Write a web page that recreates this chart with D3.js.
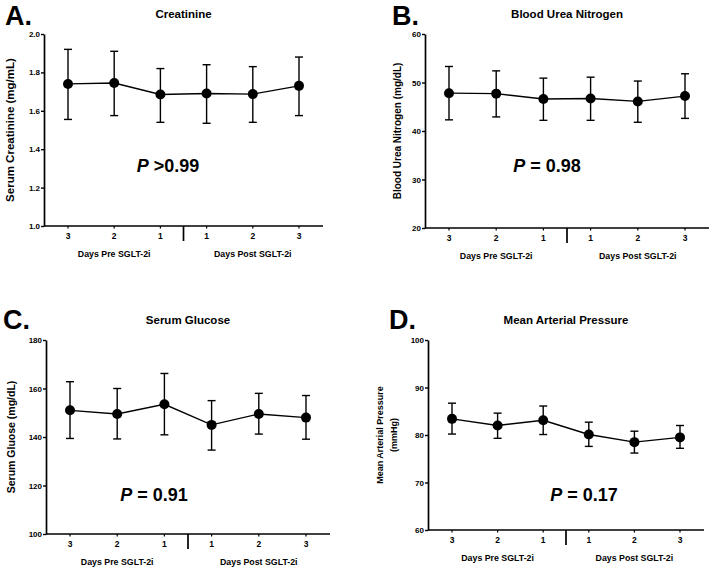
<!DOCTYPE html>
<html>
<head>
<meta charset="utf-8">
<script src="https://cdn.jsdelivr.net/npm/d3@7"></script>
<style>
  body { margin: 0; background: #fff; }
  text { font-family: "Liberation Sans", Arial, sans-serif; font-weight: bold; fill: #000; }
</style>
</head>
<body>
<svg width="709" height="568"></svg>
<script>
const days = ["3", "2", "1", "1", "2", "3"];

const creatMean  = [1.74, 1.745, 1.685, 1.69, 1.687, 1.73];
const creatUpper = [1.92, 1.91, 1.82, 1.84, 1.83, 1.88];
const creatLower = [1.555, 1.575, 1.54, 1.535, 1.54, 1.575];

const bunMean  = [47.8, 47.7, 46.6, 46.7, 46.1, 47.2];
const bunUpper = [53.3, 52.4, 50.9, 51.1, 50.3, 51.8];
const bunLower = [42.3, 42.9, 42.2, 42.2, 41.8, 42.6];

const glucMean  = [151, 149.5, 153.5, 145, 149.5, 148];
const glucUpper = [162.8, 160, 166.2, 155, 158, 157.1];
const glucLower = [139.4, 139.2, 140.9, 134.6, 141.2, 139.1];

const mapMean  = [83.4, 82, 83.1, 80.1, 78.5, 79.5];
const mapUpper = [86.7, 84.6, 86.1, 82.7, 80.8, 82];
const mapLower = [80.2, 79.3, 80.1, 77.6, 76.2, 77.2];

const panels = [
  { letter: "A.", title: "Creatinine", ylabel: ["Serum Creatinine (mg/mL)"], yfont: 11.5,
    domain: [1.0, 2.0], ticks: [1.0, 1.2, 1.4, 1.6, 1.8, 2.0], fmt: d3.format(".1f"),
    mean: creatMean, upper: creatUpper, lower: creatLower, p: ">0.99",
    left: 44, right: 323, top: 34, bottom: 226, lx: 5, ly: 25, yl: 14, px: 168, py: 172 },
  { letter: "B.", title: "Blood Urea Nitrogen", ylabel: ["Blood Urea Nitrogen (mg/dL)"], yfont: 10,
    domain: [20, 60], ticks: [20, 30, 40, 50, 60], fmt: d3.format("d"),
    mean: bunMean, upper: bunUpper, lower: bunLower, p: "= 0.98",
    left: 425, right: 709, top: 34, bottom: 228, lx: 392, ly: 25, yl: 401, px: 547, py: 172 },
  { letter: "C.", title: "Serum Glucose", ylabel: ["Serum Gluose (mg/dL)"], yfont: 10.5,
    domain: [100, 180], ticks: [100, 120, 140, 160, 180], fmt: d3.format("d"),
    mean: glucMean, upper: glucUpper, lower: glucLower, p: "= 0.91",
    left: 46, right: 330, top: 340, bottom: 534, lx: 3, ly: 329, yl: 15, px: 154, py: 501 },
  { letter: "D.", title: "Mean Arterial Pressure", ylabel: ["Mean Arterial Pressure", "(mmHg)"], yfont: 9,
    domain: [60, 100], ticks: [60, 70, 80, 90, 100], fmt: d3.format("d"),
    mean: mapMean, upper: mapUpper, lower: mapLower, p: "= 0.17",
    left: 428, right: 704, top: 340, bottom: 530, lx: 389, ly: 329, yl: 383, px: 584, py: 501 }
];

const svg = d3.select("svg");

panels.forEach(cfg => {
  const g = svg.append("g");
  const x = d3.scaleLinear().domain([0, 5]).range([cfg.left + 24, cfg.right - 24]);
  const y = d3.scaleLinear().domain(cfg.domain).range([cfg.bottom, cfg.top]);

  // y axis
  const yAxis = g.append("g")
    .attr("transform", `translate(${cfg.left},0)`)
    .call(d3.axisLeft(y).tickValues(cfg.ticks).tickFormat(cfg.fmt).tickSize(3).tickSizeOuter(0));
  yAxis.select(".domain").attr("stroke-width", 1.7);
  yAxis.selectAll(".tick line").attr("stroke-width", 1.4);
  yAxis.selectAll(".tick text").attr("font-size", 8).attr("x", -4)
    .style("font-family", "Liberation Sans, Arial, sans-serif").style("font-weight", "bold");

  // x axis line
  g.append("line")
    .attr("x1", cfg.left).attr("x2", cfg.right)
    .attr("y1", cfg.bottom).attr("y2", cfg.bottom)
    .attr("stroke", "#000").attr("stroke-width", 1.7);

  // x ticks and labels
  days.forEach((d, i) => {
    g.append("line")
      .attr("x1", x(i)).attr("x2", x(i))
      .attr("y1", cfg.bottom).attr("y2", cfg.bottom + 2.5)
      .attr("stroke", "#000").attr("stroke-width", 1.2);
    g.append("text")
      .attr("x", x(i)).attr("y", cfg.bottom + 13)
      .attr("text-anchor", "middle").attr("font-size", 8.5)
      .text(d);
  });

  // divider between pre and post
  g.append("line")
    .attr("x1", x(2.5)).attr("x2", x(2.5))
    .attr("y1", cfg.bottom).attr("y2", cfg.bottom + 15)
    .attr("stroke", "#000").attr("stroke-width", 1.7);

  g.append("text")
    .attr("x", x(1)).attr("y", cfg.bottom + 31)
    .attr("text-anchor", "middle").attr("font-size", 8.8)
    .text("Days Pre SGLT-2i");
  g.append("text")
    .attr("x", x(4)).attr("y", cfg.bottom + 31)
    .attr("text-anchor", "middle").attr("font-size", 8.8)
    .text("Days Post SGLT-2i");

  // title
  g.append("text")
    .attr("x", x(2.5)).attr("y", cfg.top - 16)
    .attr("text-anchor", "middle").attr("font-size", 11.5)
    .text(cfg.title);

  // panel letter
  g.append("text")
    .attr("x", cfg.lx).attr("y", cfg.ly)
    .attr("font-size", 27)
    .text(cfg.letter);

  // y label
  const ymid = (cfg.top + cfg.bottom) / 2;
  const yl = g.append("text")
    .attr("transform", `translate(${cfg.yl},${ymid}) rotate(-90)`)
    .attr("text-anchor", "middle").attr("font-size", cfg.yfont);
  cfg.ylabel.forEach((s, k) => {
    yl.append("tspan").attr("x", 0).attr("dy", k === 0 ? 0 : cfg.yfont * 1.5).text(s);
  });

  // error bars
  cfg.mean.forEach((m, i) => {
    g.append("line")
      .attr("x1", x(i)).attr("x2", x(i))
      .attr("y1", y(cfg.upper[i])).attr("y2", y(cfg.lower[i]))
      .attr("stroke", "#000").attr("stroke-width", 1.4);
    [cfg.upper[i], cfg.lower[i]].forEach(v => {
      g.append("line")
        .attr("x1", x(i) - 4).attr("x2", x(i) + 4)
        .attr("y1", y(v)).attr("y2", y(v))
        .attr("stroke", "#000").attr("stroke-width", 1.4);
    });
  });

  // mean line
  g.append("path")
    .datum(cfg.mean)
    .attr("d", d3.line().x((d, i) => x(i)).y(d => y(d)))
    .attr("fill", "none").attr("stroke", "#000").attr("stroke-width", 1.4);

  g.selectAll("circle.pt")
    .data(cfg.mean)
    .enter().append("circle")
    .attr("class", "pt")
    .attr("cx", (d, i) => x(i)).attr("cy", d => y(d))
    .attr("r", 5).attr("fill", "#000");

  // p value
  const pt = g.append("text")
    .attr("x", cfg.px).attr("y", cfg.py)
    .attr("text-anchor", "middle").attr("font-size", 18);
  pt.append("tspan").attr("font-style", "italic").text("P");
  pt.append("tspan").text(" " + cfg.p);
});
</script>
</body>
</html>
